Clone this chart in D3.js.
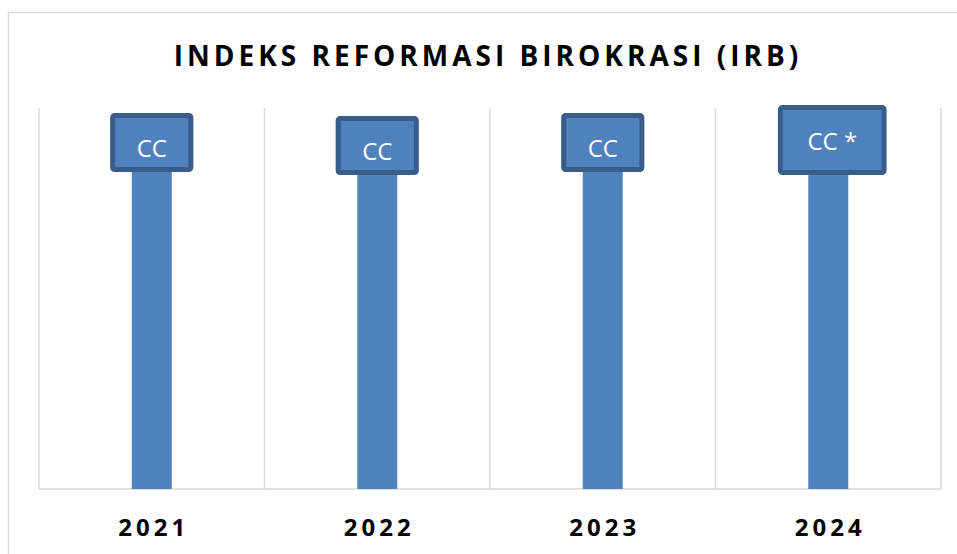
<!DOCTYPE html>
<html><head><meta charset="utf-8">
<script src="https://cdn.jsdelivr.net/npm/d3@7"></script>
<style>body{margin:0;background:#fff}svg{display:block}</style>
</head><body><svg id="c" width="957" height="554"></svg>
<script>
const title = "INDEKS REFORMASI BIROKRASI (IRB)";
const years = ["2021", "2022", "2023", "2024"];
const values = [83.2, 82.4, 83.2, 82.4];
const labels = ["CC", "CC", "CC", "CC *"];

const svg = d3.select("#c");
const W = 957, H = 554;
const m = {left: 39, right: 16, top: 108, bottom: 65};
const x = d3.scaleBand().domain(years).range([m.left, W - m.right]).paddingInner(0).paddingOuter(0);
const y = d3.scaleLinear().domain([0, 100]).range([H - m.bottom, m.top]);
const grid = "#D9D9D9";

// outer chart border
svg.append("path").attr("d", `M8.5,${H}V12.5H${W}`).attr("fill", "none").attr("stroke", grid).attr("stroke-width", 1.5);

// title
svg.append("text").attr("x", 488).attr("y", 66).attr("text-anchor", "middle")
  .attr("font-family", "Open Sans").attr("font-weight", 700).attr("font-size", 28)
  .attr("letter-spacing", 4).attr("fill", "#000").text(title);

// vertical gridlines at category boundaries
const bounds = years.map(d => x(d)).concat([x.range()[1]]);
svg.append("g").selectAll("line").data(bounds).join("line")
  .attr("x1", d => d).attr("x2", d => d).attr("y1", m.top).attr("y2", y(0))
  .attr("stroke", grid).attr("stroke-width", 1.5);
svg.append("line").attr("x1", m.left).attr("x2", W - m.right).attr("y1", y(0)).attr("y2", y(0))
  .attr("stroke", grid).attr("stroke-width", 1.5);

// bars
const bw = 40;
svg.append("g").selectAll("rect").data(years).join("rect")
  .attr("x", d => x(d) + x.bandwidth() / 2 - bw / 2).attr("width", bw)
  .attr("y", (d, i) => y(values[i])).attr("height", (d, i) => y(0) - y(values[i]))
  .attr("fill", "#4F81BD");

// x axis labels
svg.append("g").selectAll("text").data(years).join("text")
  .attr("x", d => x(d) + x.bandwidth() / 2 + 2).attr("y", 536).attr("text-anchor", "middle")
  .attr("font-family", "Open Sans").attr("font-weight", 700).attr("font-size", 24)
  .attr("letter-spacing", 4).attr("fill", "#000").text(d => d);

// data label boxes
const lg = svg.append("g");
years.forEach((d, i) => {
  const star = labels[i].includes("*");
  const cx = x(d) + x.bandwidth() / 2 + (star ? 4 : 0);
  const g = lg.append("g");
  const t = g.append("text").attr("font-family", "Open Sans").attr("font-size", 24)
    .attr("fill", "#fff").attr("text-anchor", "middle").text(labels[i]);
  const tw = t.node().getComputedTextLength();
  const bwid = tw + (star ? 54 : 48);
  const bh = star ? 65 : 54;
  const bottom = y(values[i]) - 2.5;
  g.insert("rect", "text").attr("x", cx - bwid / 2).attr("y", bottom - bh).attr("width", bwid).attr("height", bh)
    .attr("rx", 2).attr("fill", "#4F81BD").attr("stroke", "#385D8A").attr("stroke-width", 5);
  t.attr("x", cx).attr("y", bottom + 2.5 - (star ? 25 : 15));
});
</script></body></html>
